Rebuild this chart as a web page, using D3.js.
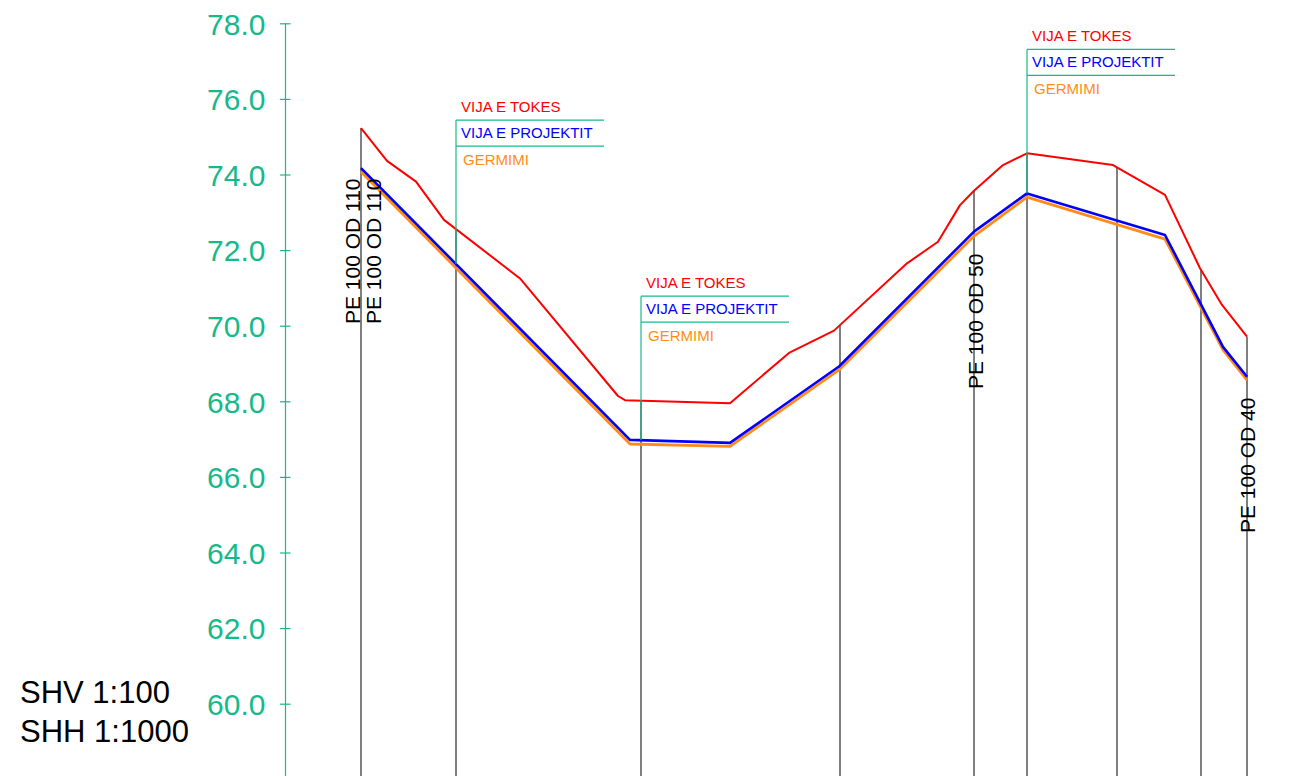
<!DOCTYPE html>
<html>
<head>
<meta charset="utf-8">
<script src="https://cdn.jsdelivr.net/npm/d3@7"></script>
<style>
  html, body { margin: 0; padding: 0; background: #fff; }
  svg { display: block; font-family: "Liberation Sans", Arial, sans-serif; }
</style>
</head>
<body>
<svg id="chart" width="1290" height="776"></svg>
<script>
// ---- data (chainage in m, elevation in m) ----
const terrainChainage = [0, 26, 55, 83, 159, 257, 264, 369, 428, 473, 546, 577, 599, 613, 642, 666, 752, 804, 839, 861, 886];
const terrainElev     = [75.23, 74.36, 73.81, 72.80, 71.25, 68.14, 68.03, 67.95, 69.28, 69.87, 71.65, 72.22, 73.19, 73.57, 74.25, 74.56, 74.25, 73.46, 71.52, 70.55, 69.71];

const designChainage  = [0, 269, 369, 478, 613, 666, 804, 862, 886];
const designElev      = [74.17, 66.98, 66.90, 68.92, 72.49, 73.50, 72.40, 69.44, 68.65];
const trenchElev      = [74.07, 66.87, 66.81, 68.83, 72.37, 73.40, 72.29, 69.36, 68.56];

const stations        = [0, 95, 280, 479, 613, 666, 756, 840, 886];
const legendStations  = [95, 280, 666];
const legendLabels    = ["VIJA E TOKES", "VIJA E PROJEKTIT", "GERMIMI"];

const pipeLabels      = ["PE 100 OD 110", "PE 100 OD 110", "PE 100 OD 50", "PE 100 OD 40"];
const pipeStations    = [0, 0, 613, 886];

const yTicks          = [60, 62, 64, 66, 68, 70, 72, 74, 76, 78];
const scaleNotes      = ["SHV 1:100", "SHH 1:1000"];

// ---- styling / layout ----
const GREEN = "#16b98a", RED = "#ff0000", BLUE = "#0000ff", ORANGE = "#ff8c1a";
const pipeLayout = [ {dx: -1, y: 324}, {dx: 20, y: 324}, {dx: 9, y: 389}, {dx: 8, y: 533} ];

const svg = d3.select("#chart");
const x = d3.scaleLinear().domain([0, 886]).range([361, 1247]);
const y = d3.scaleLinear().domain([60, 78]).range([703.7, 23.3]);
const axisX = 285.5;

function interp(chs, els, c) {
  const f = d3.scaleLinear().domain(chs).range(els);
  return f(c);
}

// y axis
const axis = d3.axisLeft(y).tickValues(yTicks).tickFormat(d3.format(".1f")).tickSize(0).tickPadding(20);
const ag = svg.append("g").attr("transform", `translate(${axisX},0)`).call(axis);
ag.select(".domain").remove();
ag.selectAll(".tick line").attr("x1", -5.5).attr("x2", 5).attr("stroke", GREEN).attr("stroke-width", 1.2);
ag.selectAll(".tick text").attr("fill", GREEN).attr("font-size", 30).attr("font-family", "Liberation Sans, Arial, sans-serif").attr("dy", "0.36em");
ag.append("line").attr("x1", 0).attr("x2", 0).attr("y1", y(78)).attr("y2", 776).attr("stroke", GREEN).attr("stroke-width", 1.2);

// station lines
svg.append("g").selectAll("line").data(stations).join("line")
  .attr("x1", d => x(d)).attr("x2", d => x(d))
  .attr("y1", d => y(interp(terrainChainage, terrainElev, d)))
  .attr("y2", 776)
  .attr("stroke", "#000").attr("stroke-width", 1);

// profile lines
const line = (chs) => d3.line().x((d, i) => x(chs[i])).y(d => y(d));
svg.append("path").datum(terrainElev).attr("d", line(terrainChainage))
  .attr("fill", "none").attr("stroke", RED).attr("stroke-width", 2).attr("stroke-linejoin", "round");
svg.append("path").datum(trenchElev).attr("d", line(designChainage))
  .attr("fill", "none").attr("stroke", ORANGE).attr("stroke-width", 2.8).attr("stroke-linejoin", "round");
svg.append("path").datum(designElev).attr("d", line(designChainage))
  .attr("fill", "none").attr("stroke", BLUE).attr("stroke-width", 2.6).attr("stroke-linejoin", "round");

// legend boxes
const lg = svg.append("g").selectAll("g").data(legendStations).join("g");
lg.each(function(d) {
  const g = d3.select(this);
  const sx = x(d);
  const by = y(interp(designChainage, designElev, d));
  const top = by - 144;
  g.append("line").attr("x1", sx).attr("x2", sx).attr("y1", top).attr("y2", by).attr("stroke", GREEN).attr("stroke-width", 1.2);
  g.append("line").attr("x1", sx).attr("x2", sx + 148).attr("y1", top).attr("y2", top).attr("stroke", GREEN).attr("stroke-width", 1.2);
  g.append("line").attr("x1", sx).attr("x2", sx + 148).attr("y1", top + 26).attr("y2", top + 26).attr("stroke", GREEN).attr("stroke-width", 1.2);
  g.append("text").attr("x", sx + 5).attr("y", top - 8).attr("fill", RED).attr("font-size", 15).text(legendLabels[0]);
  g.append("text").attr("x", sx + 5).attr("y", top + 18).attr("fill", BLUE).attr("font-size", 15).text(legendLabels[1]);
  g.append("text").attr("x", sx + 7).attr("y", top + 45).attr("fill", ORANGE).attr("font-size", 15).text(legendLabels[2]);
});

// pipe labels (vertical)
svg.append("g").selectAll("text").data(pipeLabels).join("text")
  .attr("transform", (d, i) => `translate(${x(pipeStations[i]) + pipeLayout[i].dx},${pipeLayout[i].y}) rotate(-90)`)
  .attr("fill", "#000").attr("font-size", 21).text(d => d);

// scale notes
svg.append("g").selectAll("text").data(scaleNotes).join("text")
  .attr("x", 20).attr("y", (d, i) => 703 + i * 38.5)
  .attr("fill", "#000").attr("font-size", 31).text(d => d);
</script>
</body>
</html>
